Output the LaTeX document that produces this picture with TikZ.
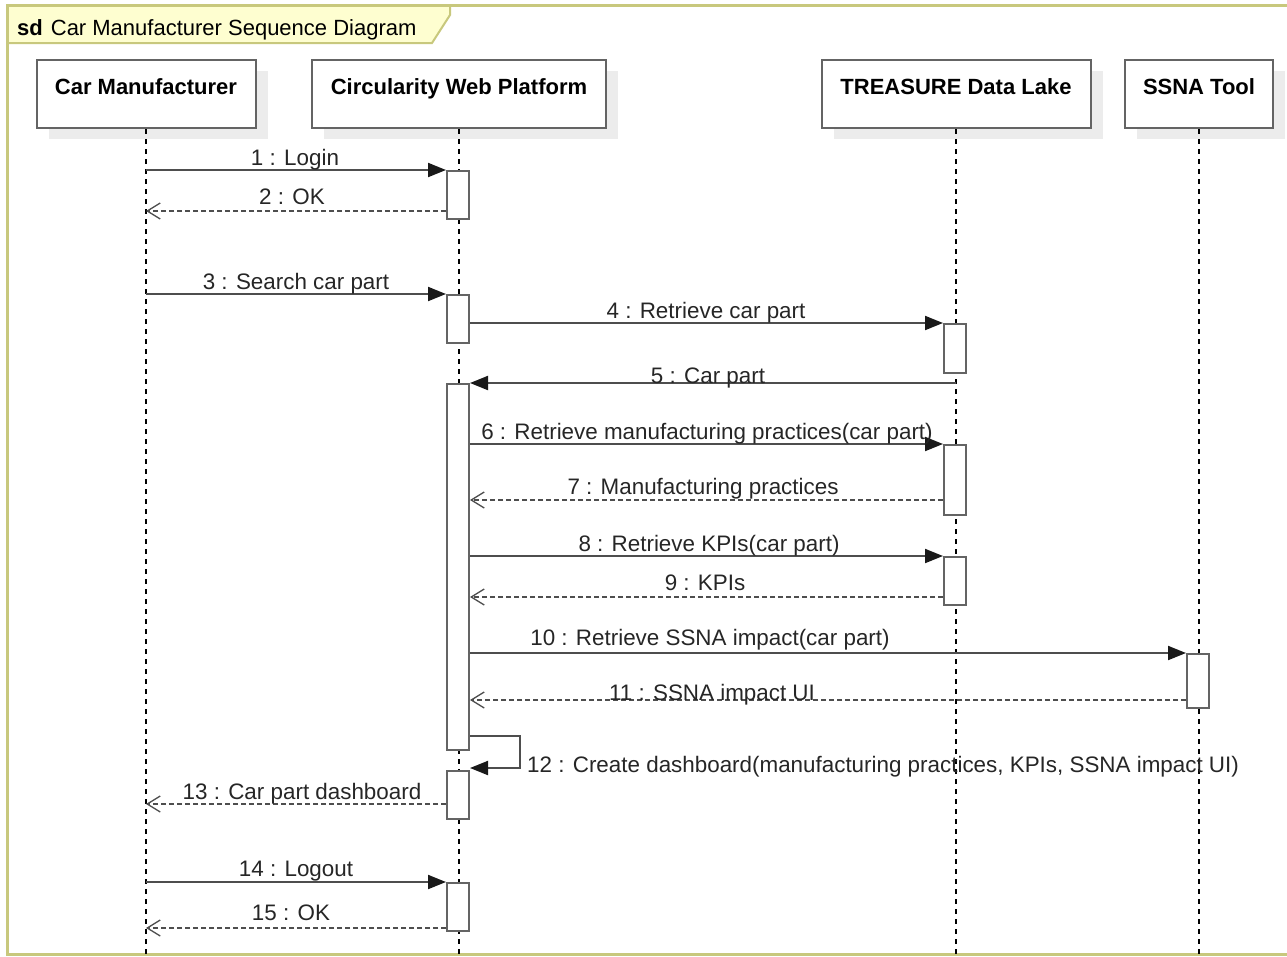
\documentclass[tikz,border=0pt]{standalone}
\usepackage{fontspec}
\setmainfont{Liberation Sans}
\usetikzlibrary{arrows.meta,shadows}

\definecolor{framec}{RGB}{200,200,125}
\definecolor{tabfill}{RGB}{254,254,208}
\definecolor{linec}{RGB}{78,78,78}
\definecolor{boxc}{RGB}{100,100,100}
\definecolor{shadowc}{RGB}{236,236,236}

\tikzset{
  every node/.style={font=\fontsize{22.4}{26}\selectfont},
  head/.style={draw=boxc, line width=2pt, fill=white, minimum height=68pt,
    inner sep=0pt, text height=16pt, text depth=16pt,
    font=\fontsize{22}{26}\selectfont\bfseries,
    general shadow={fill=shadowc, shadow xshift=12pt, shadow yshift=-11pt}},
  lifeline/.style={line width=1.3pt, dash pattern=on 5pt off 5pt, black},
  act/.style={draw=boxc, line width=2pt, fill=white, minimum width=22pt,
    anchor=north, inner sep=0pt},
  call/.style={line width=2pt, draw=linec,
    -{Triangle[length=18pt,width=14pt,color=black!90]}},
  reply/.style={line width=2pt, draw=linec, dash pattern=on 5pt off 3pt,
    -{Straight Barb[length=13pt,width=16pt,line width=1.3pt]}},
  lbl/.style={anchor=base, inner sep=0pt, text=black!85},
}

\begin{document}
\begin{tikzpicture}[x=1pt,y=-1pt]
\useasboundingbox (0,0) rectangle (1287,956);
\fill[white] (0,0) rectangle (1287,956);

% diagram frame and its name tab
\draw[framec, line width=2pt, fill=tabfill]
  (7,5) -- (450,5) -- (450,15) -- (432,43) -- (7,43) -- cycle;
\draw[framec, line width=3pt] (1300,5) -- (7,5) -- (7,954) -- (1300,954);
\node[anchor=base west, inner sep=0pt, font=\fontsize{22}{26}\selectfont]
  (title) at (17,35.5)
  {\textbf{sd}\hspace{8pt}Car Manufacturer Sequence Diagram};

% participants
\node[head, minimum width=219pt] (hCM)   at (146,94)  {Car Manufacturer};
\node[head, minimum width=294pt] (hCWP)  at (459,94)  {Circularity Web Platform};
\node[head, minimum width=269pt] (hTDL)  at (956,94)  {TREASURE Data Lake};
\node[head, minimum width=148pt] (hSSNA) at (1199,94) {SSNA Tool};

% lifelines
\coordinate (bottom) at (0,956);
\foreach \p in {hCM,hCWP,hTDL,hSSNA}
  \draw[lifeline] (\p.south) -- (\p.south |- bottom);

% activation bars
\node[act, minimum height=48pt]  (a1) at (458,170) {};
\node[act, minimum height=48pt]  (a2) at (458,294) {};
\node[act, minimum height=49pt]  (a3) at (955,323) {};
\node[act, minimum height=366pt] (a4) at (458,383) {};
\node[act, minimum height=70pt]  (a5) at (955,444) {};
\node[act, minimum height=48pt]  (a6) at (955,556) {};
\node[act, minimum height=54pt]  (a7) at (1198,653) {};
\node[act, minimum height=48pt]  (a8) at (458,770) {};
\node[act, minimum height=48pt]  (a9) at (458,882) {};

% rows of the reply messages
\coordinate (r2)  at (0,211);
\coordinate (r7)  at (0,500);
\coordinate (r9)  at (0,597);
\coordinate (r11) at (0,700);
\coordinate (r12) at (0,768);
\coordinate (r13) at (0,804);
\coordinate (r15) at (0,928);
\coordinate (selfR) at (520,736);

% messages
\draw[call]  (hCM.south |- a1.north) -- (a1.north west);
\node[lbl] (l1) at (295,165.5) {1 : Login};
\draw[reply] (a1.west |- r2) -- (hCM.south |- r2);
\node[lbl] (l2) at (292,204.5) {2 : OK};

\draw[call]  (hCM.south |- a2.north) -- (a2.north west);
\node[lbl] (l3) at (296,289.5) {3 : Search car part};
\draw[call]  (a2.east |- a3.north) -- (a3.north west);
\node[lbl] (l4) at (706,318.5) {4 : Retrieve car part};

\draw[call]  (hTDL.south |- a4.north) -- (a4.north east);
\node[lbl] (l5) at (708,383.5) {5 : Car part};

\draw[call]  (a4.east |- a5.north) -- (a5.north west);
\node[lbl] (l6) at (707,439.5) {6 : Retrieve manufacturing practices(car part)};
\draw[reply] (a5.west |- r7) -- (a4.east |- r7);
\node[lbl] (l7) at (703,494.5) {7 : Manufacturing practices};

\draw[call]  (a4.east |- a6.north) -- (a6.north west);
\node[lbl] (l8) at (709,551.5) {8 : Retrieve KPIs(car part)};
\draw[reply] (a6.west |- r9) -- (a4.east |- r9);
\node[lbl] (l9) at (705,590.5) {9 : KPIs};

\draw[call]  (a4.east |- a7.north) -- (a7.north west);
\node[lbl] (l10) at (710,645.5) {10 : Retrieve SSNA impact(car part)};
\draw[reply] (a7.west |- r11) -- (a4.east |- r11);
\node[lbl] (l11) at (712,700.5) {11 : SSNA impact UI};

\draw[call]  (a4.east |- selfR) -- (selfR) -- (selfR |- r12) -- (a8.east |- r12);
\node[lbl, anchor=base west] (l12) at (527,772.5)
  {12 : Create dashboard(manufacturing practices, KPIs, SSNA impact UI)};

\draw[reply] (a8.west |- r13) -- (hCM.south |- r13);
\node[lbl] (l13) at (302,799.5) {13 : Car part dashboard};

\draw[call]  (hCM.south |- a9.north) -- (a9.north west);
\node[lbl] (l14) at (296,876.5) {14 : Logout};
\draw[reply] (a9.west |- r15) -- (hCM.south |- r15);
\node[lbl] (l15) at (291,920.5) {15 : OK};
\end{tikzpicture}
\end{document}
